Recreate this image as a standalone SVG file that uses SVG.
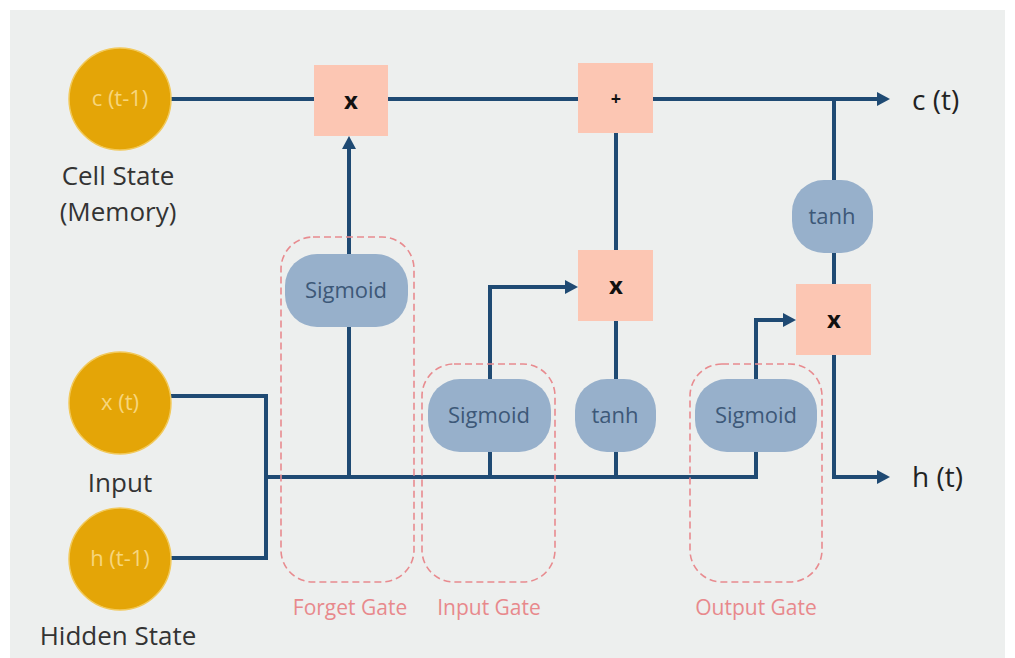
<svg xmlns="http://www.w3.org/2000/svg" width="1015" height="658" viewBox="0 0 1015 658">
<defs>
<style>
text{font-family:"Open Sans","Noto Sans",sans-serif;}
.circ{fill:#e4a507;stroke:#f2c95a;stroke-width:1.5;}
.ctxt{fill:#f7d67c;font-size:22px;text-anchor:middle;}
.lbl{fill:#333;font-size:26px;text-anchor:middle;}
.op{fill:#fcc6b3;}
.optxt{fill:#111;font-size:24px;font-weight:bold;text-anchor:middle;}
.act{fill:#97b0cb;}
.acttxt{fill:#3d5878;font-size:22px;text-anchor:middle;}
.gate{fill:none;stroke:#e88b8f;stroke-width:1.6;stroke-dasharray:7 4;}
.gtxt{fill:#e8898c;font-size:21px;text-anchor:middle;}
.out{fill:#222;font-size:28px;}
.wire{fill:none;stroke:#1f4a73;stroke-width:4;}
</style>
<marker id="arr" markerUnits="userSpaceOnUse" markerWidth="13" markerHeight="14" refX="9" refY="7" orient="auto">
<path d="M0,0 L13,7 L0,14 z" fill="#1f4a73"/>
</marker>
</defs>
<rect x="0" y="0" width="1015" height="658" fill="#ffffff"/>
<rect x="10" y="10" width="995" height="648" fill="#edefee"/>

<g id="connectors">
<path class="wire" d="M171,99 H314"/>
<path class="wire" d="M388,99 H578"/>
<path class="wire" d="M653,99 H886" marker-end="url(#arr)"/>
<path class="wire" d="M834,99 V180"/>
<path class="wire" d="M834,253 V284"/>
<path class="wire" d="M834,355 V477 H886" marker-end="url(#arr)"/>
<path class="wire" d="M616,133 V250"/>
<path class="wire" d="M616,321 V379"/>
<path class="wire" d="M616,452 V477"/>
<path class="wire" d="M171,396 H266 V558 H171"/>
<path class="wire" d="M266,477 H756 V452"/>
<path class="wire" d="M756,379 V320 H792" marker-end="url(#arr)"/>
<path class="wire" d="M490,452 V477"/>
<path class="wire" d="M490,379 V287 H574" marker-end="url(#arr)"/>
<path class="wire" d="M349,477 V327"/>
<path class="wire" d="M349,254 V140" marker-end="url(#arr)"/>
</g>

<g id="forget_gate"><rect class="gate" x="281" y="237" width="133" height="345" rx="32"/><text class="gtxt" x="350" y="615">Forget Gate</text></g>
<g id="input_gate"><rect class="gate" x="422" y="364" width="133" height="218" rx="32"/><text class="gtxt" x="489" y="615">Input Gate</text></g>
<g id="output_gate"><rect class="gate" x="690" y="364" width="132" height="218" rx="32"/><text class="gtxt" x="756" y="615">Output Gate</text></g>

<g id="c_prev"><circle class="circ" cx="120" cy="99" r="51"/><text class="ctxt" x="120" y="106">c (t-1)</text>
<text class="lbl" x="118" y="185">Cell State</text><text class="lbl" x="118" y="221">(Memory)</text></g>
<g id="x_t"><circle class="circ" cx="120" cy="403" r="51"/><text class="ctxt" x="120" y="410">x (t)</text>
<text class="lbl" x="120" y="492">Input</text></g>
<g id="h_prev"><circle class="circ" cx="120" cy="559" r="51"/><text class="ctxt" x="120" y="566">h (t-1)</text>
<text class="lbl" x="118" y="645">Hidden State</text></g>

<g id="forget_mul"><rect class="op" x="314" y="65" width="74" height="71"/><text class="optxt" x="351" y="109">x</text></g>
<g id="add"><rect class="op" x="578" y="63" width="75" height="70"/><text class="optxt" x="616" y="105" style="font-size:18px">+</text></g>
<g id="input_mul"><rect class="op" x="578" y="250" width="75" height="71"/><text class="optxt" x="616" y="294">x</text></g>
<g id="output_mul"><rect class="op" x="796" y="284" width="75" height="71"/><text class="optxt" x="834" y="328">x</text></g>

<g id="forget_sigmoid"><rect class="act" x="285" y="254" width="123" height="73" rx="32"/><text class="acttxt" x="346" y="298">Sigmoid</text></g>
<g id="input_sigmoid"><rect class="act" x="428" y="379" width="123" height="73" rx="32"/><text class="acttxt" x="489" y="423">Sigmoid</text></g>
<g id="input_tanh"><rect class="act" x="575" y="379" width="81" height="73" rx="32"/><text class="acttxt" x="615" y="423">tanh</text></g>
<g id="output_sigmoid"><rect class="act" x="695" y="379" width="122" height="73" rx="32"/><text class="acttxt" x="756" y="423">Sigmoid</text></g>
<g id="output_tanh"><rect class="act" x="792" y="180" width="81" height="73" rx="32"/><text class="acttxt" x="832" y="224">tanh</text></g>

<g id="c_t"><text class="out" x="912" y="110">c (t)</text></g>
<g id="h_t"><text class="out" x="912" y="487">h (t)</text></g>
</svg>
